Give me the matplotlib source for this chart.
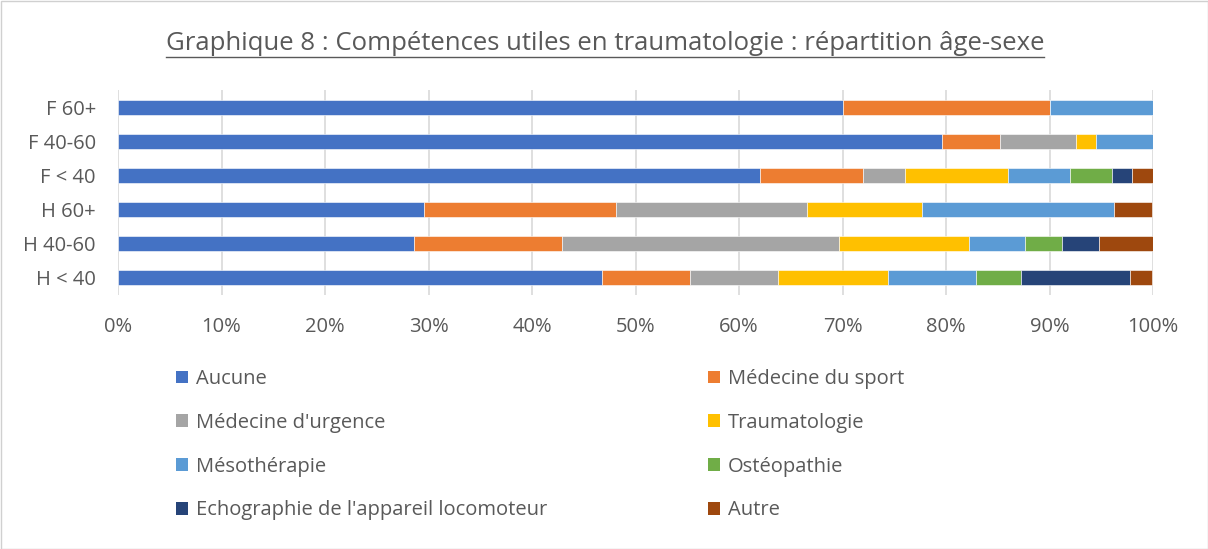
import numpy as np
import matplotlib.pyplot as plt
from matplotlib.patches import Patch, Rectangle
from matplotlib.lines import Line2D
from matplotlib.ticker import PercentFormatter

plt.rcParams['font.family'] = ['Open Sans', 'DejaVu Sans']

# Groups (bottom to top as drawn)
groups = ['H < 40', 'H 40-60', 'H 60+', 'F < 40', 'F 40-60', 'F 60+']

series = ['Aucune', 'Médecine du sport', "Médecine d'urgence", 'Traumatologie',
          'Mésothérapie', 'Ostéopathie', "Echographie de l'appareil locomoteur", 'Autre']
colors = ['#4472C4', '#ED7D31', '#A5A5A5', '#FFC000',
          '#5B9BD5', '#70AD47', '#264478', '#9E480E']

# percentages, one list per series (order of groups)
aucune      = [46.8, 28.6, 29.6, 62.0, 79.6, 70.0]
med_sport   = [8.5, 14.3, 18.5, 10.0, 5.6, 20.0]
med_urgence = [8.5, 26.8, 18.5, 4.0, 7.4, 0.0]
traumato    = [10.6, 12.5, 11.1, 10.0, 1.9, 0.0]
mesotherapie = [8.5, 5.4, 18.5, 6.0, 5.5, 10.0]
osteopathie = [4.3, 3.6, 0.0, 4.0, 0.0, 0.0]
echographie = [10.6, 3.6, 0.0, 2.0, 0.0, 0.0]
autre       = [2.1, 5.4, 3.7, 2.0, 0.0, 0.0]

values = [aucune, med_sport, med_urgence, traumato,
          mesotherapie, osteopathie, echographie, autre]

W, H = 1208, 549
fig = plt.figure(figsize=(W / 100, H / 100), dpi=100)
fig.patches.append(Rectangle((0.5 / W, 0.5 / H), 1 - 1 / W, 1 - 1 / H,
                             transform=fig.transFigure, fill=False,
                             edgecolor='#d0d0d0', linewidth=1))

ax = fig.add_axes([118 / W, (H - 295) / H, 1035 / W, 205 / H])
y = np.arange(len(groups))
left = np.zeros(len(groups))
for name, vals, c in zip(series, values, colors):
    vals = np.array(vals)
    ax.barh(y, vals, left=left, height=0.44, color=c, label=name,
            edgecolor='white', linewidth=0.4, zorder=3)
    left += vals

ax.set_xlim(0, 100)
ax.set_ylim(-0.5, len(groups) - 0.5)
ax.set_xticks(np.arange(0, 101, 10))
ax.xaxis.set_major_formatter(PercentFormatter(decimals=0))
ax.set_yticks(y)
ax.set_yticklabels(groups)
ax.grid(axis='x', color='#d9d9d9', linewidth=1.2, zorder=0)
for s in ax.spines.values():
    s.set_visible(False)
ax.tick_params(length=0, labelsize=14.5, colors='#595959')
ax.tick_params(axis='x', pad=16)
ax.tick_params(axis='y', pad=16)

title = fig.text(605 / W, 1 - 44 / H, 'Graphique 8 : Compétences utiles en traumatologie : répartition âge-sexe',
                 ha='center', va='center', fontsize=18.5, color='#595959')
fig.canvas.draw()
bb = title.get_window_extent(fig.canvas.get_renderer())
ul_y = bb.y0 - 1
fig.add_artist(Line2D([bb.x0 / W, bb.x1 / W], [ul_y / H, ul_y / H],
                      color='#595959', linewidth=1))

handles = [Patch(facecolor=c, label=n) for n, c in zip(series, colors)]
col1 = [handles[i] for i in (0, 2, 4, 6)]
col2 = [handles[i] for i in (1, 3, 5, 7)]
for hs, xpos in ((col1, 168), (col2, 700)):
    leg = fig.legend(handles=hs, loc='upper left',
                     bbox_to_anchor=(xpos / W, 1 - 361 / H), frameon=False,
                     fontsize=14.5, labelspacing=1.18, handlelength=0.6,
                     handleheight=0.6, handletextpad=0.4, borderaxespad=0)
    for t in leg.get_texts():
        t.set_color('#595959')

fig.savefig('out.png', dpi=100)
